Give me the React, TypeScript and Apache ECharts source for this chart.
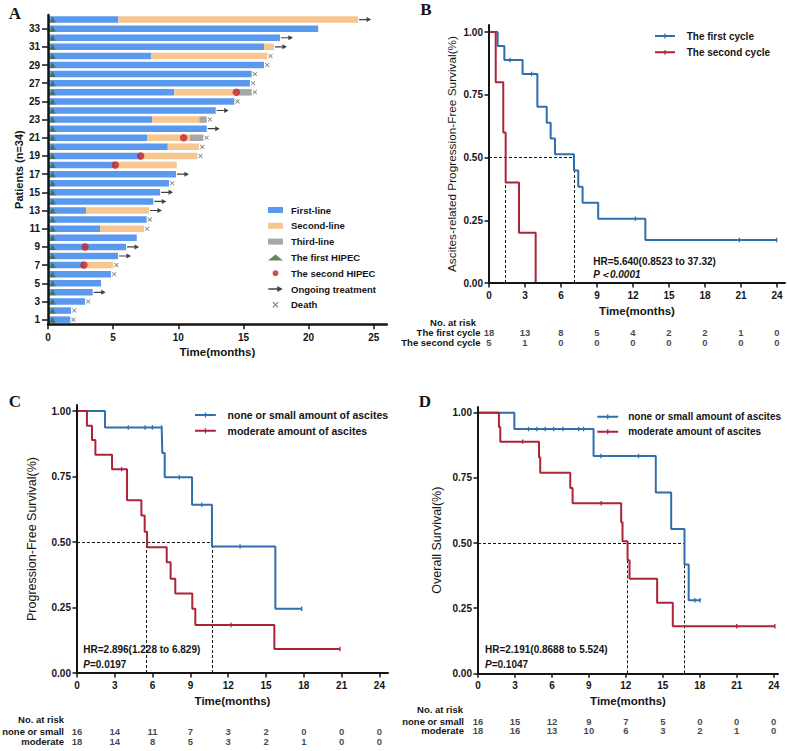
import React, { useEffect, useRef } from "react";
import * as echarts from "echarts";

const SANS = '"Liberation Sans", Arial, Helvetica, sans-serif';
const SERIF = '"Liberation Serif", "Times New Roman", Times, serif';
const INK = "#151515";

// ---------- Panel A: treatment course per patient (months) ----------
const patientIds = ["1", "2", "3", "4", "5", "6", "7", "8", "9", "10", "11", "12", "13", "14", "15", "16", "17",
  "18", "19", "20", "21", "22", "23", "24", "25", "26", "27", "28", "29", "30", "31", "32", "33", "34"];
const firstLineMonths = [1.71, 1.77, 2.84, 3.43, 4.07, 4.83, 2.76, 5.37, 5.99, 6.81, 3.99, 7.57, 2.92, 8.08, 8.6,
  9.29, 9.82, 5.17, 7.11, 9.19, 7.6, 12.18, 8.0, 12.87, 14.3, 9.69, 15.5, 15.63, 16.58, 7.9, 16.58, 17.8, 20.74, 5.4];
const secondLineMonths: (number | null)[] = [null, null, null, null, null, null, 2.25, null, null, null, 3.38, null,
  4.83, null, null, null, null, 4.71, 4.35, 2.4, 3.3, null, 3.61, null, null, 4.89, null, null, null, 8.93, 0.76,
  null, null, 18.4];
const thirdLineMonths: (number | null)[] = [null, null, null, null, null, null, null, null, null, null, null, null,
  null, null, null, null, null, null, null, null, 1.02, null, 0.57, null, null, 1.05, null, null, null, null, null,
  null, null, null];
const outcome = ["death", "death", "death", "ongoing", "", "death", "death", "ongoing", "ongoing", "", "death",
  "death", "ongoing", "ongoing", "ongoing", "death", "ongoing", "", "death", "death", "death", "ongoing", "death",
  "ongoing", "death", "death", "death", "death", "death", "death", "ongoing", "ongoing", "", "ongoing"];
// [patient, month of the second HIPEC]
const secondHipec: [number, number][] = [[7, 2.76], [9, 2.84], [18, 5.17], [19, 7.11], [21, 10.41], [26, 14.45]];
const FIRST_HIPEC_MONTH = 0.35;
const swimmerTicks = [0, 5, 10, 15, 20, 25];

// ---------- Kaplan-Meier panels: [month, survival after the event] ----------
const kmTicks = [0, 3, 6, 9, 12, 15, 18, 21, 24];
const survivalTicks = [0, 0.25, 0.5, 0.75, 1];

const bFirstEvents: [number, number][] = [[0.72, 0.944], [1.28, 0.889], [2.8, 0.833], [4.03, 0.702], [4.81, 0.639],
  [5.14, 0.576], [5.5, 0.513], [7.08, 0.448], [7.44, 0.384], [7.8, 0.32], [9.1, 0.256], [13.03, 0.171]];
const bFirstCensored = [1.75, 3.55, 12.2, 20.86, 23.97];
const bSecondEvents: [number, number][] = [[0.56, 0.8], [1.19, 0.6], [1.39, 0.4], [2.5, 0.2], [3.89, 0]];
const bSecondCensored: number[] = [];
const bMedianFirst = 7.1;
const bMedianSecond = 1.39;
const bFirstRisk = [18, 13, 8, 5, 4, 2, 2, 1, 0];
const bSecondRisk = [5, 1, 0, 0, 0, 0, 0, 0, 0];

const cNoneEvents: [number, number][] = [[2.22, 0.9375], [6.77, 0.84], [6.96, 0.747], [9.13, 0.642],
  [10.71, 0.483], [15.74, 0.245]];
const cNoneCensored = [4.07, 5.4, 5.98, 6.72, 8.12, 9.9, 12.94, 17.83];
const cModerateEvents: [number, number][] = [[0.79, 0.944], [1.19, 0.889], [1.46, 0.833], [2.78, 0.778],
  [3.97, 0.659], [5.11, 0.601], [5.37, 0.539], [5.56, 0.48], [7.12, 0.423], [7.43, 0.36], [7.8, 0.303],
  [9.15, 0.245], [9.39, 0.183], [15.66, 0.092]];
const cModerateCensored = [3.54, 12.22, 20.87];
const cMedianNone = 10.71;
const cMedianModerate = 5.53;
const cNoneRisk = [16, 14, 11, 7, 3, 2, 0, 0, 0];
const cModerateRisk = [18, 14, 8, 5, 3, 2, 1, 0, 0];

const dNoneEvents: [number, number][] = [[2.95, 0.9375], [9.38, 0.834], [14.43, 0.694], [15.68, 0.554],
  [16.76, 0.418], [17.1, 0.28]];
const dNoneCensored = [4.1, 4.78, 5.46, 6.14, 6.89, 8.16, 8.57, 9.97, 13.03, 17.6, 18.03];
const dModerateEvents: [number, number][] = [[1.7, 0.945], [1.81, 0.889], [4.95, 0.829], [5.05, 0.77],
  [7.49, 0.711], [7.68, 0.653], [11.62, 0.58], [11.73, 0.507], [12.14, 0.434], [12.3, 0.363], [14.54, 0.271],
  [15.81, 0.181]];
const dModerateCensored = [3.62, 10.0, 21.0, 24.1];
const dMedianNone = 16.76;
const dMedianModerate = 12.1;
const dNoneRisk = [16, 15, 12, 9, 7, 5, 0, 0, 0];
const dModerateRisk = [18, 16, 13, 10, 6, 3, 2, 1, 0];

// ---------- styling ----------
const BLUE_BAR = "#5b99ee";
const ORANGE_BAR = "#f8c690";
const GRAY_BAR = "#a7a7a7";
const GREEN = "#3d6a2c";
const DOT_RED = "#c0262c";
const KM_BLUE = "#2f6fae";
const KM_RED = "#ae2338";

const CENSOR_MARK = "path://M0,0L1,0L1,8L0,8Z";
// legend key: a 2px line with a censor tick in its middle
const KM_KEY = "path://M0,1.4L9.4,1.4L9.4,0L10.6,0L10.6,1.4L20,1.4L20,3.4L10.6,3.4L10.6,4.8L9.4,4.8L9.4,3.4L0,3.4Z";
const ARROW = "path://M0,1.9L7.5,1.9L7.5,0L12,2.5L7.5,5L7.5,3.1L0,3.1Z";
const CROSS = "path://M0,1.2L1.2,0L5,3.8L8.8,0L10,1.2L6.2,5L10,8.8L8.8,10L5,6.2L1.2,10L0,8.8L3.8,5Z";

const boldText = (size: number) => ({ fontFamily: SANS, fontSize: size, fontWeight: "bold" as const, color: INK });

function kmLine(name: string, color: string, events: [number, number][], censored: number[],
  axisIndex: number, medianLines?: [number, number][][]) {
  const marks = [
    ...events.map(([t, s]) => ({ t, s, censor: false })),
    ...censored.map((t) => ({ t, s: 0, censor: true })),
  ].sort((a, b) => a.t - b.t);
  let current = 1;
  const data: any[] = [{ value: [0, 1], symbol: "none" }];
  for (const m of marks) {
    if (m.censor) {
      data.push({ value: [m.t, current] });
    } else {
      current = m.s;
      data.push({ value: [m.t, m.s], symbol: "none" });
    }
  }
  const series: any = {
    type: "line",
    name,
    xAxisIndex: axisIndex,
    yAxisIndex: axisIndex,
    step: "end",
    data,
    symbol: CENSOR_MARK,
    symbolSize: [1.3, 4.5],
    showSymbol: true,
    lineStyle: { color, width: 2 },
    itemStyle: { color },
    emphasis: { disabled: true },
    z: 4,
  };
  if (medianLines) {
    series.markLine = {
      silent: true,
      symbol: ["none", "none"],
      label: { show: false },
      emphasis: { disabled: true },
      lineStyle: { color: INK, width: 1, type: [3, 2] },
      data: medianLines.map(([a, b]) => [{ coord: a }, { coord: b }]),
      z: 3,
    };
  }
  return series;
}

function kmAxes(axisIndex: number, xMax: number, yMax: number, yName: string, yNameSize: number, yNameGap: number) {
  const xAxis = {
    type: "value", gridIndex: axisIndex, min: 0, max: xMax,
    axisLine: { show: true, onZero: false, lineStyle: { color: INK, width: 2 } },
    axisTick: { show: true, length: 4.5, customValues: kmTicks, lineStyle: { color: INK, width: 1.5 } },
    axisLabel: { customValues: kmTicks, margin: 7, ...boldText(10) },
    splitLine: { show: false },
    name: "Time(months)", nameLocation: "middle", nameGap: 22,
    nameTextStyle: boldText(11.5),
    z: 5,
  };
  const yAxis = {
    type: "value", gridIndex: axisIndex, min: 0, max: yMax,
    axisLine: { show: true, onZero: false, lineStyle: { color: INK, width: 2 } },
    axisTick: { show: true, length: 4.5, customValues: survivalTicks, lineStyle: { color: INK, width: 1.5 } },
    axisLabel: { customValues: survivalTicks, margin: 6, formatter: (v: number) => v.toFixed(2), ...boldText(10) },
    splitLine: { show: false },
    name: yName, nameLocation: "middle", nameGap: yNameGap,
    nameTextStyle: { fontFamily: SANS, fontSize: yNameSize, color: INK },
    z: 5,
  };
  return { xAxis, yAxis };
}

function riskAxes(axisIndex: number, xMax: number) {
  return {
    xAxis: { type: "value", gridIndex: axisIndex, min: 0, max: xMax, show: false },
    yAxis: { type: "value", gridIndex: axisIndex, min: 0, max: 1, inverse: true, show: false },
  };
}

function riskSeries(axisIndex: number, rows: number[][]) {
  const data: number[][] = [];
  rows.forEach((row, r) => row.forEach((n, i) => data.push([kmTicks[i], r, n])));
  return {
    type: "scatter",
    xAxisIndex: axisIndex,
    yAxisIndex: axisIndex,
    symbolSize: 1,
    clip: false,
    silent: true,
    itemStyle: { color: "rgba(0,0,0,0)" },
    label: {
      show: true, position: "inside", formatter: (p: any) => String(p.value[2]),
      ...boldText(9.5), lineHeight: 9,
    },
    data,
  };
}

function kmLegend(left: number, top: number, itemWidth: number, gap: number, fontSize: number, textPad: number, names: string[]) {
  return {
    orient: "vertical", left, top, padding: 0, itemWidth, itemHeight: 5, itemGap: gap,
    selectedMode: false,
    textStyle: { ...boldText(fontSize), lineHeight: 12, padding: [0, 0, 0, textPad] },
    data: names.map((name) => ({ name, icon: KM_KEY })),
  };
}

function text(content: string, x: number, y: number, style: any = {}) {
  return {
    type: "text", x, y, silent: true,
    style: {
      text: content, fill: INK, fontFamily: SANS, fontSize: 10, fontWeight: "bold",
      align: "left", verticalAlign: "middle", ...style,
    },
  };
}

function buildOption() {
  const treatmentEnd = firstLineMonths.map((v, i) => v + (secondLineMonths[i] ?? 0) + (thirdLineMonths[i] ?? 0));
  const ongoingData = outcome.map((o, i) => (o === "ongoing" ? [treatmentEnd[i], i] : null)).filter(Boolean);
  const deathData = outcome.map((o, i) => (o === "death" ? [treatmentEnd[i], i] : null)).filter(Boolean);

  const B_X = 24.67, B_Y = 1.028;
  const C_X = 24.68, C_Y = 1.023;
  const D_X = 24.35, D_Y = 1.022;

  const bAxes = kmAxes(1, B_X, B_Y, "Ascites-related Progression-Free Survival(%)", 11.8, 31);
  const bRisk = riskAxes(2, B_X);
  const cAxes = kmAxes(3, C_X, C_Y, "Progression-Free Survival(%)", 12.5, 39);
  const cRisk = riskAxes(4, C_X);
  const dAxes = kmAxes(5, D_X, D_Y, "Overall Survival(%)", 12.5, 35);
  const dRisk = riskAxes(6, D_X);

  const bigGrid = { containLabel: false, outerBoundsMode: "none" };
  const rowLabel = { align: "right", fontSize: 9.5, lineHeight: 9 };

  return {
    animation: false,
    backgroundColor: "#ffffff",
    textStyle: { fontFamily: SANS },
    grid: [
      { ...bigGrid, left: 48, top: 15, width: 338.8, height: 309.2 },
      { ...bigGrid, left: 489, top: 25, width: 296, height: 258 },
      { ...bigGrid, left: 489, top: 332.3, width: 296, height: 10 },
      { ...bigGrid, left: 77, top: 405, width: 311, height: 268 },
      { ...bigGrid, left: 77, top: 731.7, width: 311, height: 10 },
      { ...bigGrid, left: 478, top: 407, width: 300, height: 266.3 },
      { ...bigGrid, left: 478, top: 721, width: 300, height: 9.7 },
    ],
    xAxis: [
      {
        type: "value", gridIndex: 0, min: 0, max: 26,
        axisLine: { show: true, lineStyle: { color: INK, width: 2.5 } },
        axisTick: { show: true, length: 5, customValues: swimmerTicks, lineStyle: { color: INK, width: 1.5 } },
        axisLabel: { customValues: swimmerTicks, margin: 8, ...boldText(10) },
        splitLine: { show: false },
        name: "Time(months)", nameLocation: "middle", nameGap: 22, nameTextStyle: boldText(11.5),
        z: 5,
      },
      bAxes.xAxis, bRisk.xAxis, cAxes.xAxis, cRisk.xAxis, dAxes.xAxis, dRisk.xAxis,
    ],
    yAxis: [
      {
        type: "category", gridIndex: 0, data: patientIds, boundaryGap: true,
        axisLine: { show: true, lineStyle: { color: INK, width: 2.5 } },
        axisTick: {
          show: true, alignWithLabel: true, length: 6, interval: (i: number) => i % 2 === 0,
          lineStyle: { color: INK, width: 1.5 },
        },
        axisLabel: { interval: (i: number) => i % 2 === 0, margin: 8, ...boldText(10) },
        splitLine: { show: false },
        name: "Patients (n=34)", nameLocation: "middle", nameGap: 22.5, nameTextStyle: boldText(11),
        z: 5,
      },
      bAxes.yAxis, bRisk.yAxis, cAxes.yAxis, cRisk.yAxis, dAxes.yAxis, dRisk.yAxis,
    ],
    legend: [
      {
        orient: "vertical", left: 268, top: 204.5, padding: 0, itemWidth: 15, itemHeight: 6, itemGap: 4.8,
        selectedMode: false,
        textStyle: { ...boldText(9.5), lineHeight: 11, padding: [0, 0, 0, 3] },
        data: [
          { name: "First-line", icon: "rect" },
          { name: "Second-line", icon: "rect" },
          { name: "Third-line", icon: "rect" },
          "The first HIPEC", "The second HIPEC", "Ongoing treatment", "Death",
        ],
      },
      kmLegend(655, 30, 20, 4.3, 10, 6.7, ["The first cycle", "The second cycle"]),
      kmLegend(195, 409, 21, 3.7, 10.5, 6.7, ["none or small amount of ascites", "moderate amount of ascites"]),
      kmLegend(597.3, 410.7, 21, 3, 10, 5, ["none or small amount of ascites", "moderate amount of ascites"]),
    ],
    series: [
      // Panel A swimmer bars
      {
        type: "bar", name: "First-line", stack: "lines", xAxisIndex: 0, yAxisIndex: 0, barWidth: 6.5,
        itemStyle: { color: BLUE_BAR }, data: firstLineMonths, silent: true,
      },
      {
        type: "bar", name: "Second-line", stack: "lines", xAxisIndex: 0, yAxisIndex: 0, barWidth: 6.5,
        itemStyle: { color: ORANGE_BAR }, data: secondLineMonths.map((v) => (v == null ? "-" : v)), silent: true,
      },
      {
        type: "bar", name: "Third-line", stack: "lines", xAxisIndex: 0, yAxisIndex: 0, barWidth: 6.5,
        itemStyle: { color: GRAY_BAR }, data: thirdLineMonths.map((v) => (v == null ? "-" : v)), silent: true,
      },
      {
        type: "scatter", name: "The first HIPEC", xAxisIndex: 0, yAxisIndex: 0, symbol: "triangle",
        symbolSize: 6, itemStyle: { color: GREEN }, z: 6, silent: true,
        data: patientIds.map((_, i) => [FIRST_HIPEC_MONTH, i]),
      },
      {
        type: "scatter", name: "The second HIPEC", xAxisIndex: 0, yAxisIndex: 0, symbol: "circle",
        symbolSize: 7.5, itemStyle: { color: DOT_RED }, z: 6, silent: true,
        data: secondHipec.map(([p, m]) => [m, p - 1]),
      },
      {
        type: "scatter", name: "Ongoing treatment", xAxisIndex: 0, yAxisIndex: 0, symbol: ARROW,
        symbolSize: [12, 5], symbolOffset: [7, 0], itemStyle: { color: "#111" }, z: 6, silent: true,
        data: ongoingData,
      },
      {
        type: "scatter", name: "Death", xAxisIndex: 0, yAxisIndex: 0, symbol: CROSS,
        symbolSize: 4.5, symbolOffset: [3.2, 0], itemStyle: { color: "#555" }, z: 6, silent: true,
        data: deathData,
      },
      // Panel B
      kmLine("The first cycle", KM_BLUE, bFirstEvents, bFirstCensored, 1, [
        [[0, 0.5], [bMedianFirst, 0.5]],
        [[bMedianSecond, 0], [bMedianSecond, 0.5]],
        [[bMedianFirst, 0], [bMedianFirst, 0.5]],
      ]),
      kmLine("The second cycle", KM_RED, bSecondEvents, bSecondCensored, 1),
      riskSeries(2, [bFirstRisk, bSecondRisk]),
      // Panel C
      kmLine("none or small amount of ascites", KM_BLUE, cNoneEvents, cNoneCensored, 3, [
        [[0, 0.5], [cMedianNone, 0.5]],
        [[cMedianModerate, 0], [cMedianModerate, 0.5]],
        [[cMedianNone, 0], [cMedianNone, 0.5]],
      ]),
      kmLine("moderate amount of ascites", KM_RED, cModerateEvents, cModerateCensored, 3),
      riskSeries(4, [cNoneRisk, cModerateRisk]),
      // Panel D
      kmLine("none or small amount of ascites", KM_BLUE, dNoneEvents, dNoneCensored, 5, [
        [[0, 0.5], [dMedianNone, 0.5]],
        [[dMedianModerate, 0], [dMedianModerate, 0.5]],
        [[dMedianNone, 0], [dMedianNone, 0.5]],
      ]),
      kmLine("moderate amount of ascites", KM_RED, dModerateEvents, dModerateCensored, 5),
      riskSeries(6, [dNoneRisk, dModerateRisk]),
    ],
    graphic: {
      elements: [
        // panel letters
        text("A", 15, 13.3, { fontFamily: SERIF, fontSize: 17, align: "center" }),
        text("B", 426, 9.2, { fontFamily: SERIF, fontSize: 17, align: "center" }),
        text("C", 15, 401, { fontFamily: SERIF, fontSize: 17, align: "center" }),
        text("D", 425, 401.7, { fontFamily: SERIF, fontSize: 17, align: "center" }),
        // hazard ratios
        text("HR=5.640(0.8523 to 37.32)", 593.3, 261.7),
        text("P＜0.0001", 593.3, 274, { fontStyle: "italic" }),
        text("HR=2.896(1.228 to 6.829)", 83.3, 649.3),
        text("{i|P}=0.0197", 83.3, 664, {
          rich: { i: { fontStyle: "italic", fontWeight: "bold", fontFamily: SANS, fontSize: 10, fill: INK } },
        }),
        text("HR=2.191(0.8688 to 5.524)", 485, 649.3),
        text("{i|P}=0.1047", 485, 664, {
          rich: { i: { fontStyle: "italic", fontWeight: "bold", fontFamily: SANS, fontSize: 10, fill: INK } },
        }),
        // number-at-risk row labels
        text("No. at risk", 476, 322.8, rowLabel),
        text("The first cycle", 480.5, 332.3, rowLabel),
        text("The second cycle", 480.5, 342.3, rowLabel),
        text("No. at risk", 64, 719.5, rowLabel),
        text("none or small", 64, 731.7, rowLabel),
        text("moderate", 64, 741.7, rowLabel),
        text("No. at risk", 463, 709.5, rowLabel),
        text("none or small", 464, 721, rowLabel),
        text("moderate", 464, 730.7, rowLabel),
      ],
    },
  };
}

export default function App() {
  const ref = useRef<HTMLDivElement>(null);
  useEffect(() => {
    if (!ref.current) return;
    const chart = echarts.init(ref.current, undefined, { renderer: "svg" });
    chart.setOption(buildOption() as any);
    return () => chart.dispose();
  }, []);
  return (
    <div
      ref={ref}
      style={{ position: "fixed", left: 0, top: 0, width: 787, height: 751, background: "#ffffff" }}
    />
  );
}
